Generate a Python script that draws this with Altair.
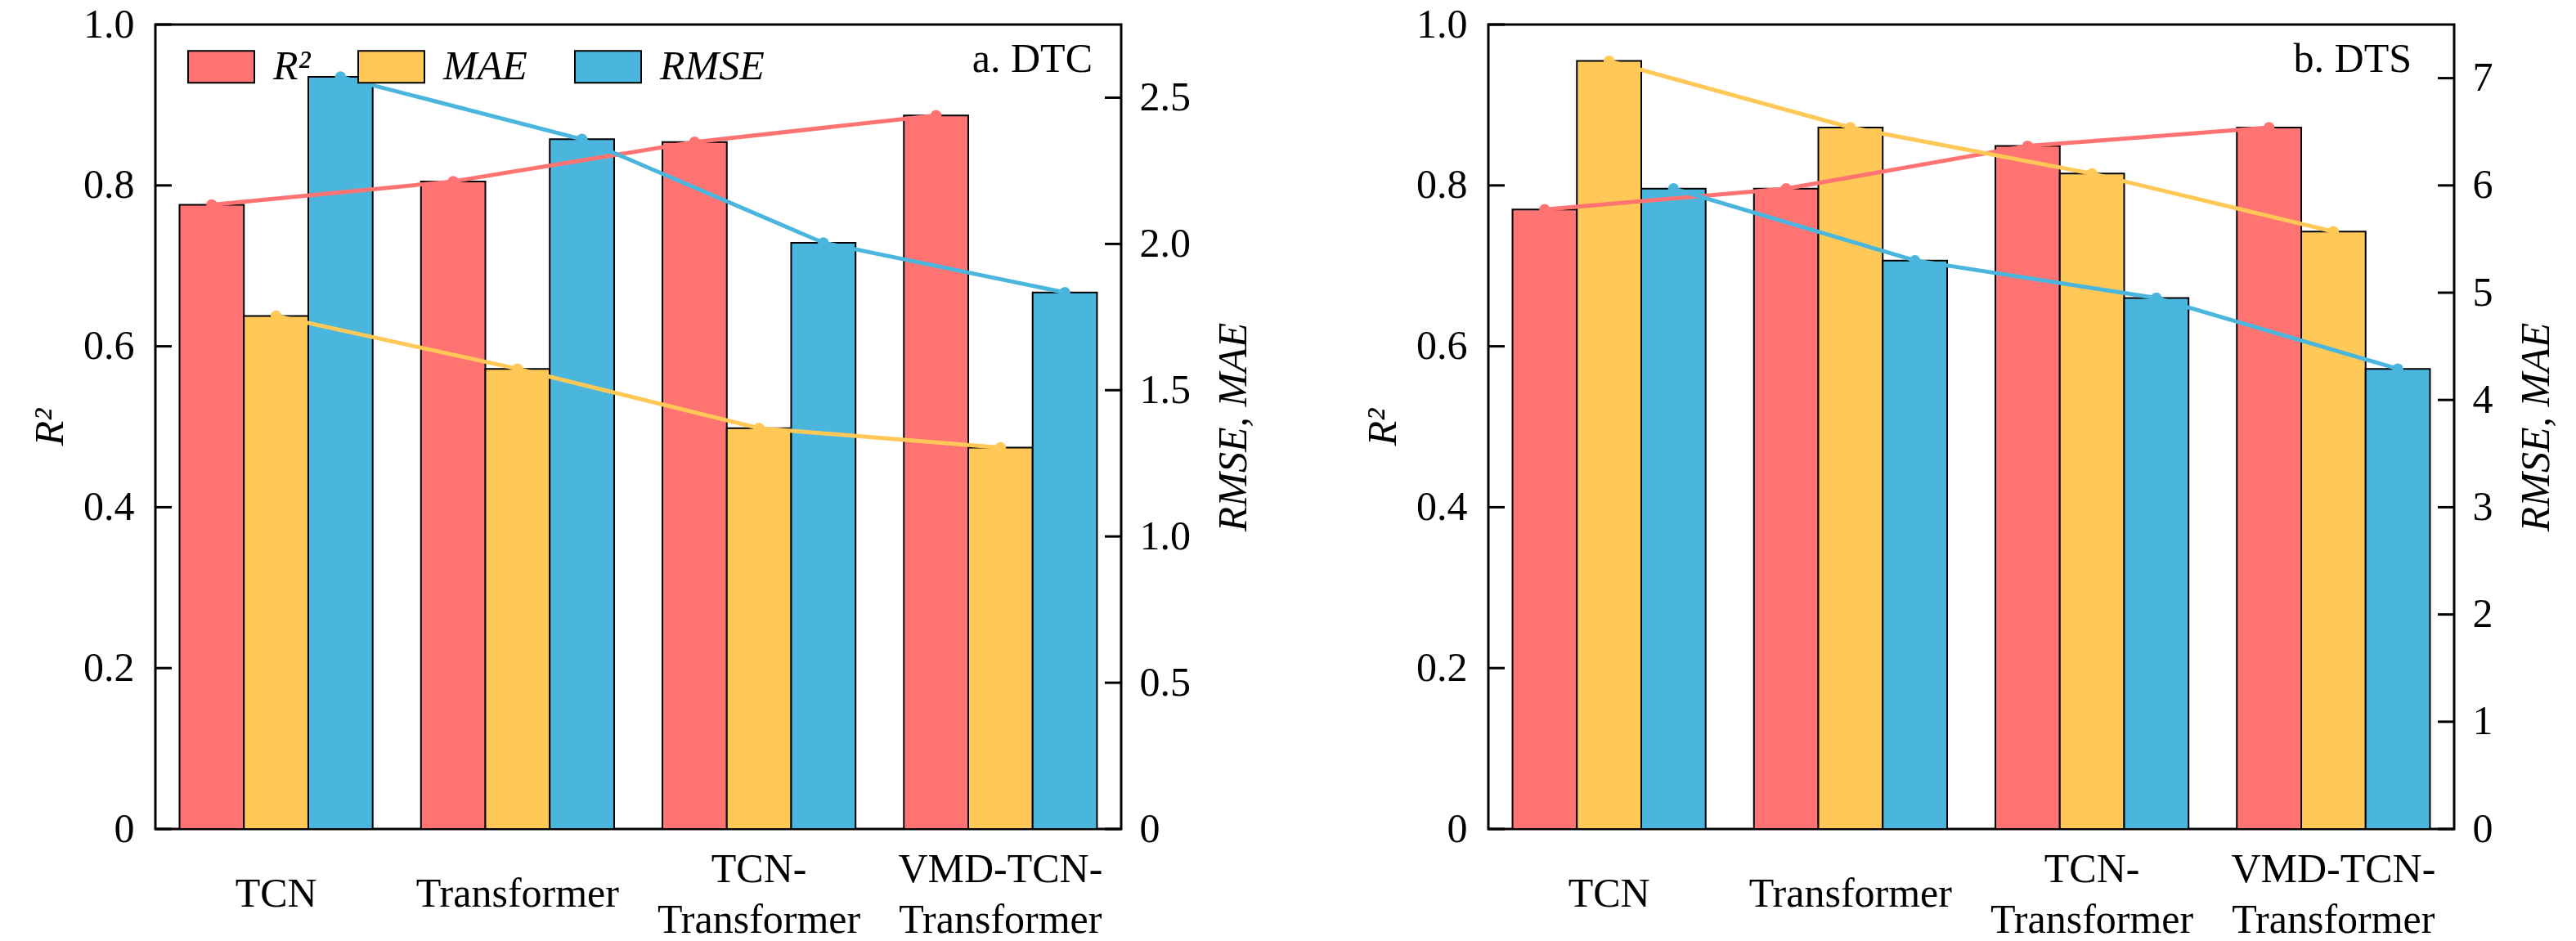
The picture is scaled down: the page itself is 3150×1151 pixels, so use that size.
import altair as alt
import pandas as pd

models = ["TCN", "Transformer", "TCN-Transformer", "VMD-TCN-Transformer"]
model_labels = ["TCN", "Transformer", "TCN-\nTransformer", "VMD-TCN-\nTransformer"]
metrics = ["R²", "MAE", "RMSE"]
colors = ["#FF7373", "#FFC857", "#4AB6DE"]

# panel a: DTC
dtc_r2 = [0.776, 0.805, 0.854, 0.887]
dtc_mae = [1.754, 1.573, 1.370, 1.304]
dtc_rmse = [2.571, 2.358, 2.004, 1.834]
# panel b: DTS
dts_r2 = [0.770, 0.796, 0.849, 0.872]
dts_mae = [7.16, 6.54, 6.11, 5.57]
dts_rmse = [5.97, 5.30, 4.95, 4.29]

r2_ticks = [0, 0.2, 0.4, 0.6, 0.8, 1.0]
dtc_err_ticks = [0, 0.5, 1.0, 1.5, 2.0, 2.5]
dts_err_ticks = [0, 1, 2, 3, 4, 5, 6, 7]

FONT = "Liberation Serif"
W, H = 1181, 984
TICK = 20


def panel(r2, mae, rmse, err_max, err_ticks, err_fmt, tag, tag_x, show_legend):
    rows = []
    for m, vals in zip(metrics, [r2, mae, rmse]):
        for mod, v in zip(models, vals):
            rows.append({"model": mod, "metric": m, "value": v})
    df = pd.DataFrame(rows)
    base = alt.Chart(df)

    x = alt.X("model:N", sort=models,
              scale=alt.Scale(paddingInner=0.2, paddingOuter=0.1), axis=None)
    xo = alt.XOffset("metric:N", sort=metrics,
                     scale=alt.Scale(domain=metrics, paddingInner=0, paddingOuter=0))
    color = alt.Color("metric:N", sort=metrics,
                      scale=alt.Scale(domain=metrics, range=colors),
                      legend=alt.Legend(title=None, orient="none", legendX=39, legendY=10,
                                        direction="horizontal",
                                        symbolType="M-1,-0.48H1V0.48H-1Z", symbolSize=6561,
                                        symbolStrokeColor="black", symbolStrokeWidth=2,
                                        symbolOpacity=1,
                                        labelFont=FONT, labelFontSize=50, labelFontStyle="italic",
                                        labelOffset=22, columnPadding=54, padding=0,
                                        labelColor="black") if show_legend else None)

    r2_scale = alt.Scale(domain=[0, 1], nice=False, zero=True)
    err_scale = alt.Scale(domain=[0, err_max], nice=False, zero=True)

    left_axis = alt.Axis(orient="left", values=r2_ticks, ticks=False, tickSize=0, domain=False,
                         grid=False, labelFont=FONT, labelFontSize=50, labelPadding=26,
                         labelExpr="datum.value == 0 ? '0' : format(datum.value, '.1f')",
                         labelColor="black",
                         title="R²", titleFont=FONT, titleFontSize=50, titleFontStyle="italic",
                         titleFontWeight="normal", titlePadding=15, titleColor="black")
    right_axis = alt.Axis(orient="right", values=err_ticks, ticks=False, tickSize=0, domain=False,
                          grid=False, labelFont=FONT, labelFontSize=50, labelPadding=22,
                          labelExpr="datum.value == 0 ? '0' : format(datum.value, '%s')" % err_fmt,
                          labelColor="black",
                          title="RMSE, MAE", titleFont=FONT, titleFontSize=50,
                          titleFontStyle="italic", titleFontWeight="normal", titleAngle=270,
                          titleBaseline="top", titlePadding=28, titleColor="black")

    r2_bars = base.transform_filter("datum.metric == 'R²'").mark_bar(
        stroke="black", strokeWidth=2).encode(
        x=x, xOffset=xo, color=color,
        y=alt.Y("value:Q", scale=r2_scale, axis=left_axis))
    err_bars = base.transform_filter("datum.metric != 'R²'").mark_bar(
        stroke="black", strokeWidth=2).encode(
        x=x, xOffset=xo, color=color,
        y=alt.Y("value:Q", scale=err_scale, axis=right_axis))

    layers = [r2_bars, err_bars]
    for m, c in zip(metrics, colors):
        sc = r2_scale if m == "R²" else err_scale
        sub = base.transform_filter(alt.datum.metric == m)
        layers.append(sub.mark_line(color=c, strokeWidth=5).encode(
            x=x, xOffset=xo, y=alt.Y("value:Q", scale=sc, axis=None)))
        layers.append(sub.mark_circle(color=c, size=180, opacity=1).encode(
            x=x, xOffset=xo, y=alt.Y("value:Q", scale=sc, axis=None)))

    lt = alt.Chart(pd.DataFrame({"v": r2_ticks})).mark_rule(color="black", strokeWidth=3).encode(
        y=alt.Y("v:Q", scale=r2_scale, axis=None), x=alt.value(0), x2=alt.value(TICK))
    rt = alt.Chart(pd.DataFrame({"v": err_ticks})).mark_rule(color="black", strokeWidth=3).encode(
        y=alt.Y("v:Q", scale=err_scale, axis=None), x=alt.value(W - TICK), x2=alt.value(W))
    txt = alt.Chart(pd.DataFrame({"t": [tag]})).mark_text(
        font=FONT, fontSize=50, align="right", baseline="alphabetic", color="black").encode(
        x=alt.value(tag_x), y=alt.value(58), text="t:N")

    lab_df = pd.DataFrame({"model": models, "label": model_labels})
    lab_base = alt.Chart(lab_df)
    lab1 = lab_base.transform_filter("indexof(datum.label, '\\n') < 0").mark_text(
        font=FONT, fontSize=50, baseline="middle", align="center", color="black").encode(
        x=x, y=alt.value(H + 80), text="label:N")
    lab2 = lab_base.transform_filter("indexof(datum.label, '\\n') >= 0").mark_text(
        font=FONT, fontSize=50, baseline="middle", align="center", color="black",
        lineBreak="\n", lineHeight=62).encode(
        x=x, y=alt.value(H + 50), text="label:N")

    layers += [lt, rt, txt, lab1, lab2]

    return alt.layer(*layers).resolve_scale(y="independent").properties(width=W, height=H)


left = panel(dtc_r2, dtc_mae, dtc_rmse, 2.75, dtc_err_ticks, ".1f", "a. DTC", 1146, True)
right = panel(dts_r2, dts_mae, dts_rmse, 7.5, dts_err_ticks, "d", "b. DTS", 1129, False)

chart = alt.hconcat(left, right, spacing=130).resolve_scale(color="independent").configure(
    font=FONT,
    padding={"left": 27, "top": -5, "right": 0, "bottom": 0}
).configure_view(stroke="black", strokeWidth=3).configure_axis(
    labelColor="black", labelFont=FONT, titleFont=FONT
).configure_text(font=FONT)

chart.save("out.html", embed_options={"renderer": "svg", "actions": False})
